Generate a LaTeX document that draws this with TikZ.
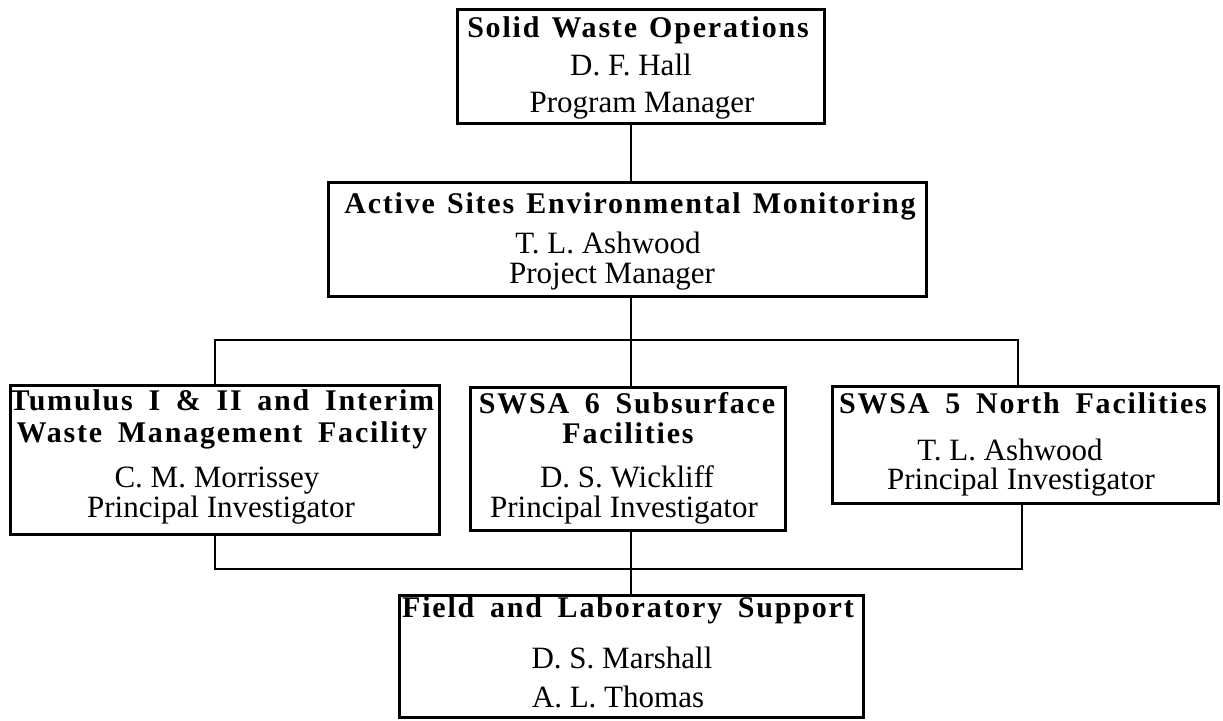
\documentclass[tikz,border=0pt]{standalone}
\usepackage{fontspec}
\setmainfont{Liberation Serif}
\newfontfamily\ttlfont[LetterSpace=6,WordSpace=1.7]{Liberation Serif}
\newfontfamily\ttltight[LetterSpace=6,WordSpace=1.3]{Liberation Serif}
\begin{document}
\begin{tikzpicture}[x=1pt,y=-1pt,
  box/.style={draw, line width=2.8pt, inner sep=0pt, anchor=north west},
  head/.style={font=\fontsize{30}{36}\selectfont\ttlfont\bfseries, inner sep=0pt, anchor=base},
  headt/.style={font=\fontsize{30}{36}\selectfont\ttltight\bfseries, inner sep=0pt, anchor=base},
  txt/.style={font=\fontsize{31}{36}\selectfont, inner sep=0pt, anchor=base},
  link/.style={line width=2.8pt}]
\useasboundingbox (0,0) rectangle (1223,720);
% boxes
\node[box, minimum width=367pt, minimum height=114pt] (sw) at (456,8) {};
\node[box, minimum width=598pt, minimum height=114pt] (as) at (327,181) {};
\node[box, minimum width=429pt, minimum height=149pt] (tu) at (9,384) {};
\node[box, minimum width=315pt, minimum height=143pt] (s6) at (469,386) {};
\node[box, minimum width=386pt, minimum height=117pt] (s5) at (831,385) {};
\node[box, minimum width=464pt, minimum height=122pt] (fl) at (398,594) {};
% texts
\node[head] (sw1) at (638,37) {Solid Waste Operations};
\node[txt] (sw2) at (631,75) {D. F. Hall};
\node[txt] (sw3) at (642,112) {Program Manager};
\node[head] (as1) at (630,213) {Active Sites Environmental Monitoring};
\node[txt] (as2) at (608,253) {T. L. Ashwood};
\node[txt] (as3) at (612,283) {Project Manager};
\node[headt] (tu1) at (222,410) {Tumulus I \& II and Interim};
\node[headt] (tu2) at (222,442) {Waste Management Facility};
\node[txt] (tu3) at (217,487) {C. M. Morrissey};
\node[txt] (tu4) at (221,517) {Principal Investigator};
\node[head] (s61) at (627,413) {SWSA 6 Subsurface};
\node[head] (s62) at (628,443) {Facilities};
\node[txt] (s63) at (627,487) {D. S. Wickliff};
\node[txt] (s64) at (624,517) {Principal Investigator};
\node[head] (s51) at (1023,413) {SWSA 5 North Facilities};
\node[txt] (s52) at (1010,460) {T. L. Ashwood};
\node[txt] (s53) at (1021,489) {Principal Investigator};
\node[head] (fl1) at (628,617) {Field and Laboratory Support};
\node[txt] (fl2) at (622,668) {D. S. Marshall};
\node[txt] (fl3) at (618,707) {A. L. Thomas};
% junction coordinates
\coordinate (cx) at (631,0);
\coordinate (lx) at (215,0);
\coordinate (rx) at (1018,0);
\coordinate (rxb) at (1022,0);
\coordinate (ty) at (0,340);
\coordinate (by) at (0,569);
% connectors
\draw[link] (sw.south -| cx) -- (as.north -| cx);
\draw[link] (as.south -| cx) -- (s6.north -| cx);
\draw[link] (tu.north -| lx) -- (lx |- ty) -- (rx |- ty) -- (s5.north -| rx);
\draw[link] (tu.south -| lx) -- (lx |- by) -- (rxb |- by) -- (s5.south -| rxb);
\draw[link] (s6.south -| cx) -- (fl.north -| cx);
\end{tikzpicture}
\end{document}
